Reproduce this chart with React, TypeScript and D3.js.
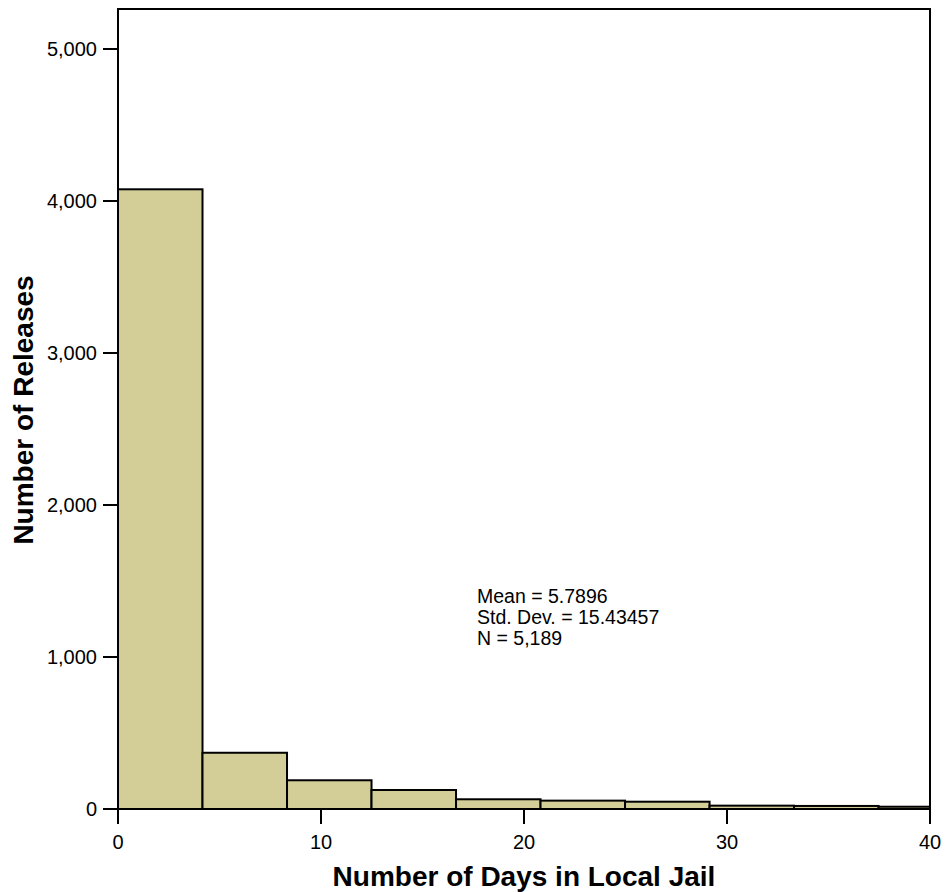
import { useEffect } from "react";
import * as d3 from "d3";

// histogram bins (days), width
const binWidth = 4.163;
const counts = [4077, 370, 189, 125, 64, 55, 48, 22, 20, 15];
const xTicks = [0, 10, 20, 30, 40];
const yTicks = [0, 1000, 2000, 3000, 4000, 5000];
const stats = ["Mean = 5.7896", "Std. Dev. = 15.43457", "N = 5,189"];

const width = 945;
const height = 892;
const margin = { top: 9, right: 15, bottom: 83, left: 118 };

export default function App() {
  useEffect(() => {
    document.body.style.margin = "0";
  }, []);

  const x = d3
    .scaleLinear()
    .domain([0, 40])
    .range([margin.left, width - margin.right]);

  const y = d3
    .scaleLinear()
    .domain([0, 5000])
    .range([height - margin.bottom, 49]);

  const fmt = d3.format(",");
  const font = "Arial, 'Liberation Sans', Helvetica, sans-serif";
  const bottom = height - margin.bottom;

  const bins = counts.map((c, i) => ({
    x0: i * binWidth,
    x1: Math.min((i + 1) * binWidth, 40),
    count: c,
  }));

  return (
    <svg
      width={width}
      height={height}
      style={{ position: "absolute", left: 0, top: 0, background: "#fff" }}
      fontFamily={font}
    >
      {bins.map((b, i) => (
        <rect
          key={i}
          x={x(b.x0)}
          y={y(b.count)}
          width={x(b.x1) - x(b.x0)}
          height={bottom - y(b.count)}
          fill="#d3ce97"
          stroke="#000"
          strokeWidth={2}
        />
      ))}

      <rect
        x={margin.left}
        y={margin.top}
        width={x(40) - margin.left}
        height={bottom - margin.top}
        fill="none"
        stroke="#000"
        strokeWidth={2}
      />

      {yTicks.map((t) => (
        <g key={t}>
          <line x1={margin.left - 15} x2={margin.left} y1={y(t)} y2={y(t)} stroke="#000" strokeWidth={2} />
          <text x={margin.left - 21} y={y(t)} dy="0.35em" textAnchor="end" fontSize={20}>
            {fmt(t)}
          </text>
        </g>
      ))}

      {xTicks.map((t) => (
        <g key={t}>
          <line x1={x(t)} x2={x(t)} y1={bottom} y2={bottom + 15} stroke="#000" strokeWidth={2} />
          <text x={x(t)} y={bottom + 40} textAnchor="middle" fontSize={20}>
            {t}
          </text>
        </g>
      ))}

      <text
        x={(x(0) + x(40)) / 2}
        y={886}
        textAnchor="middle"
        fontSize={28}
        fontWeight="bold"
      >
        Number of Days in Local Jail
      </text>

      <text
        transform={`translate(33,410) rotate(-90)`}
        textAnchor="middle"
        fontSize={28}
        fontWeight="bold"
      >
        Number of Releases
      </text>

      {stats.map((s, i) => (
        <text key={s} x={477} y={603 + i * 21} fontSize={19.5}>
          {s}
        </text>
      ))}
    </svg>
  );
}
